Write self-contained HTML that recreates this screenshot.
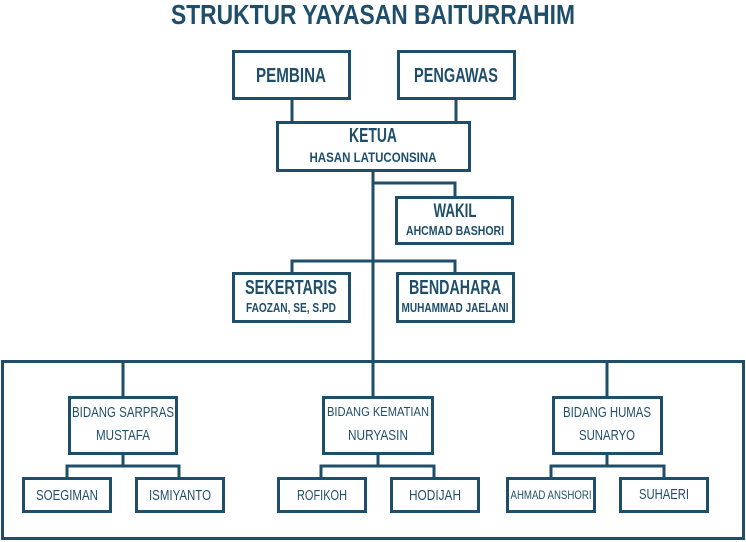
<!DOCTYPE html>
<html><head><meta charset="utf-8"><style>html,body{margin:0;padding:0;background:#fff}svg{display:block}</style></head>
<body>
<svg width="746" height="542" viewBox="0 0 746 542" xmlns="http://www.w3.org/2000/svg" font-family="Liberation Sans, sans-serif" fill="#1f4e6b">
<g stroke="#1f4e6b" stroke-width="3" fill="none">
<rect x="233.5" y="51.5" width="116" height="47"/>
<rect x="398.5" y="51.5" width="116" height="47"/>
<path d="M292 99V122M456 99V122"/>
<rect x="277.5" y="122.5" width="192" height="48"/>
<path d="M373 171V361M373 183H455V197M292 273V261H455V273"/>
<rect x="396.5" y="197.5" width="116" height="46"/>
<rect x="233.5" y="273.5" width="116" height="48"/>
<rect x="397.5" y="273.5" width="116" height="48"/>
<rect x="2.5" y="361.5" width="741" height="177"/>
<path d="M123 361V397M373 361V397M607 361V397"/>
<rect x="69.5" y="397.5" width="107" height="56"/>
<rect x="323.5" y="397.5" width="109" height="56"/>
<rect x="553.5" y="397.5" width="108" height="56"/>
<path d="M123 454V466M67 478V466H179V478M378 454V466M321 478V466H434V478M607 454V466M551 478V466H664V478"/>
<rect x="23.5" y="478.5" width="87" height="33"/>
<rect x="136.5" y="478.5" width="87" height="33"/>
<rect x="278.5" y="478.5" width="87" height="33"/>
<rect x="391.5" y="478.5" width="87" height="33"/>
<rect x="507.5" y="478.5" width="87" height="33"/>
<rect x="620.5" y="478.5" width="87" height="33"/>
</g>
<g font-weight="bold" text-anchor="middle">
<text x="373" y="24" font-size="28" textLength="404" lengthAdjust="spacingAndGlyphs">STRUKTUR YAYASAN BAITURRAHIM</text>
<text x="291" y="82" font-size="20" textLength="70" lengthAdjust="spacingAndGlyphs">PEMBINA</text>
<text x="456" y="82" font-size="20" textLength="84" lengthAdjust="spacingAndGlyphs">PENGAWAS</text>
<text x="373" y="142" font-size="20" textLength="48" lengthAdjust="spacingAndGlyphs">KETUA</text>
<text x="373" y="162" font-size="14" textLength="127" lengthAdjust="spacingAndGlyphs">HASAN LATUCONSINA</text>
<text x="455" y="217" font-size="19" textLength="43" lengthAdjust="spacingAndGlyphs">WAKIL</text>
<text x="455" y="235" font-size="13" textLength="98" lengthAdjust="spacingAndGlyphs">AHCMAD BASHORI</text>
<text x="291" y="294" font-size="20" textLength="92" lengthAdjust="spacingAndGlyphs">SEKERTARIS</text>
<text x="291" y="312" font-size="13" textLength="90" lengthAdjust="spacingAndGlyphs">FAOZAN, SE, S.PD</text>
<text x="455" y="294" font-size="20" textLength="92" lengthAdjust="spacingAndGlyphs">BENDAHARA</text>
<text x="455" y="312" font-size="13" textLength="107" lengthAdjust="spacingAndGlyphs">MUHAMMAD JAELANI</text>
</g>
<g text-anchor="middle" font-size="15">
<text x="123" y="417" textLength="102" lengthAdjust="spacingAndGlyphs">BIDANG SARPRAS</text>
<text x="123" y="440" textLength="54" lengthAdjust="spacingAndGlyphs">MUSTAFA</text>
<text x="378" y="416" font-size="13" textLength="102" lengthAdjust="spacingAndGlyphs">BIDANG KEMATIAN</text>
<text x="378" y="440" textLength="60" lengthAdjust="spacingAndGlyphs">NURYASIN</text>
<text x="607" y="417" textLength="88" lengthAdjust="spacingAndGlyphs">BIDANG HUMAS</text>
<text x="607" y="440" textLength="56" lengthAdjust="spacingAndGlyphs">SUNARYO</text>
<text x="67" y="500" textLength="62" lengthAdjust="spacingAndGlyphs">SOEGIMAN</text>
<text x="180" y="500" textLength="62" lengthAdjust="spacingAndGlyphs">ISMIYANTO</text>
<text x="322" y="500" textLength="50" lengthAdjust="spacingAndGlyphs">ROFIKOH</text>
<text x="435" y="500" textLength="52" lengthAdjust="spacingAndGlyphs">HODIJAH</text>
<text x="551" y="499" font-size="12" textLength="81" lengthAdjust="spacingAndGlyphs">AHMAD ANSHORI</text>
<text x="664" y="499" textLength="50" lengthAdjust="spacingAndGlyphs">SUHAERI</text>
</g>
</svg>
</body></html>
